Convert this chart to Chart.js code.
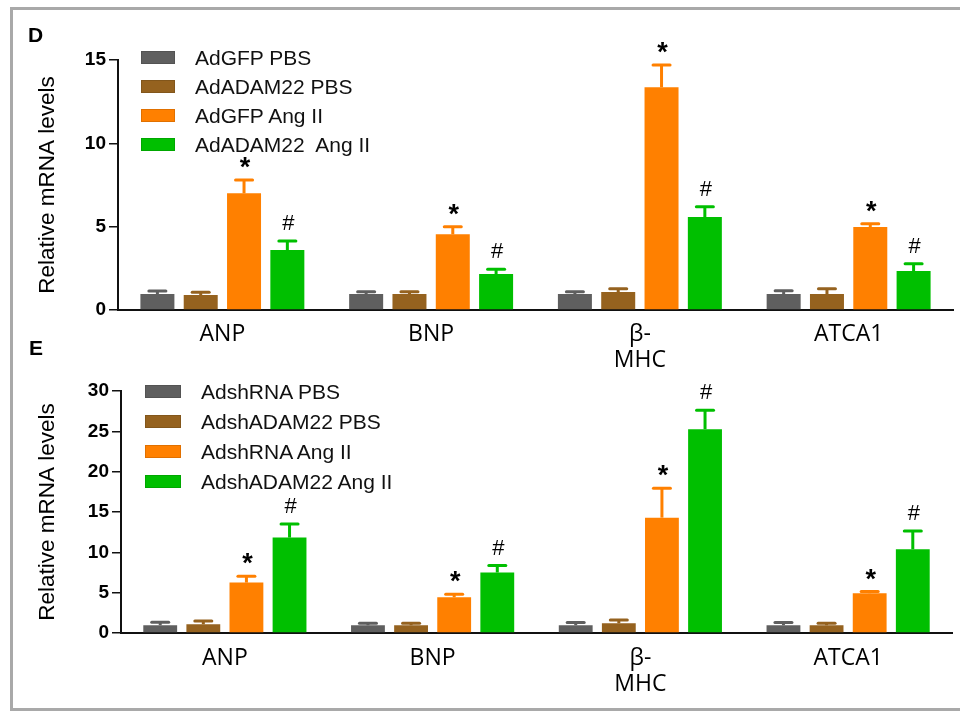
<!DOCTYPE html>
<html>
<head>
<meta charset="utf-8">
<script src="https://cdn.jsdelivr.net/npm/chart.js@4.4.1/dist/chart.umd.min.js"></script>
<style>
  html, body { margin: 0; padding: 0; background: #fff; }
  body { width: 960px; height: 711px; position: relative; overflow: hidden; font-family: "Liberation Sans", Arial, sans-serif; }
  .frame { position: absolute; left: 10px; top: 7px; width: 1000px; height: 698px; border: 3px solid #a9a9a9; border-right: none; }
  .cv { position: absolute; left: 0; }
  .panel { position: absolute; font-weight: bold; font-size: 21px; line-height: 21px; color: #000; }
  .leg { position: absolute; display: flex; align-items: center; height: 21px; font-size: 21px; line-height: 21px; color: #111; white-space: pre; }
  .leg .sw { height: 13px; margin-right: 20px; box-sizing: border-box; border: 1px solid rgba(0,0,0,0.12); }
</style>
</head>
<body>
<div class="frame"></div>
<canvas id="cD" class="cv" width="960" height="375" style="top:0px"></canvas>
<canvas id="cE" class="cv" width="960" height="336" style="top:375px"></canvas>
<div class="panel" style="left:28px; top:24px;">D</div>
<div class="panel" style="left:29px; top:337px;">E</div>
<div id="legD"></div>
<div id="legE"></div>
<script>
// ---------- data ----------
const categories = ['ANP', 'BNP', ['β-', 'MHC'], 'ATCA1'];
const colors = ['#5f5f5f', '#95621f', '#ff8000', '#00bf00'];

// Panel D
const seriesD = ['AdGFP PBS', 'AdADAM22 PBS', 'AdGFP Ang II', 'AdADAM22  Ang II'];
const dGfpPbs      = [0.96, 0.96, 0.96, 0.96];
const dAdamPbs     = [0.90, 0.96, 1.08, 0.96];
const dGfpAng      = [7.00, 4.54, 13.36, 4.98];
const dAdamAng     = [3.60, 2.16, 5.58, 2.34];
const dGfpPbsErr   = [0.18, 0.14, 0.14, 0.20];
const dAdamPbsErr  = [0.16, 0.14, 0.20, 0.32];
const dGfpAngErr   = [0.80, 0.46, 1.34, 0.20];
const dAdamAngErr  = [0.54, 0.28, 0.62, 0.44];
const ticksD = [0, 5, 10, 15];

// Panel E
const seriesE = ['AdshRNA PBS', 'AdshADAM22 PBS', 'AdshRNA Ang II', 'AdshADAM22 Ang II'];
const eShPbs       = [0.96, 0.96, 0.96, 0.96];
const eAdamPbs     = [1.08, 0.96, 1.20, 0.96];
const eShAng       = [6.25, 4.43, 14.30, 4.93];
const eAdamAng     = [11.83, 7.50, 25.27, 10.38];
const eShPbsErr    = [0.37, 0.24, 0.33, 0.33];
const eAdamPbsErr  = [0.42, 0.24, 0.42, 0.24];
const eShAngErr    = [0.78, 0.37, 3.65, 0.20];
const eAdamAngErr  = [1.67, 0.86, 2.33, 2.28];
const ticksE = [0, 5, 10, 15, 20, 25, 30];

const marks = ['', '', '*', '#'];
const yTitle = 'Relative mRNA levels';

// ---------- plugin: error bars + significance marks ----------
const errorBarPlugin = {
  id: 'errbars',
  afterDatasetsDraw(chart) {
    const ctx = chart.ctx;
    const ys = chart.scales.y;
    chart.data.datasets.forEach((ds, i) => {
      const meta = chart.getDatasetMeta(i);
      meta.data.forEach((bar, j) => {
        const v = ds.data[j];
        const e = ds.errors[j];
        const top = ys.getPixelForValue(v + e);
        ctx.save();
        ctx.strokeStyle = ds.backgroundColor;
        ctx.lineCap = 'butt';
        ctx.lineWidth = 3;
        ctx.beginPath();
        ctx.moveTo(bar.x, bar.y);
        ctx.lineTo(bar.x, top);
        ctx.stroke();
        ctx.lineCap = 'round';
        ctx.lineWidth = 3;
        ctx.beginPath();
        ctx.moveTo(bar.x - 8.5, top);
        ctx.lineTo(bar.x + 8.5, top);
        ctx.stroke();
        const mk = ds.mark;
        if (mk) {
          ctx.fillStyle = '#000';
          ctx.textAlign = 'center';
          ctx.textBaseline = 'alphabetic';
          let gap;
          if (mk === '*') { ctx.font = 'bold 27px "Liberation Sans", Arial'; gap = 12; }
          else { ctx.font = '22px "Liberation Sans", Arial'; gap = 11; }
          const m = ctx.measureText(mk);
          const by = (top - gap) - m.actualBoundingBoxDescent;
          ctx.fillText(mk, bar.x + 1, by);
        }
        ctx.restore();
      });
    });
  }
};

function makeDatasets(labels, vals, errs) {
  return labels.map((lab, i) => ({
    label: lab,
    data: vals[i],
    errors: errs[i],
    mark: marks[i],
    backgroundColor: colors[i],
    borderWidth: 0,
    barPercentage: 0.785,
    categoryPercentage: 0.83
  }));
}

function makeChart(id, labels, vals, errs, ticks, cfg) {
  return new Chart(document.getElementById(id), {
    type: 'bar',
    data: { labels: categories, datasets: makeDatasets(labels, vals, errs) },
    options: {
      responsive: false,
      animation: false,
      devicePixelRatio: 1,
      layout: { padding: cfg.padding },
      plugins: { legend: { display: false }, tooltip: { enabled: false } },
      scales: {
        x: {
          grid: { display: false, drawTicks: false },
          border: { display: true, color: '#111', width: 2 },
          ticks: {
            color: '#000',
            padding: cfg.xPad,
            maxRotation: 0,
            autoSkip: false,
            font: { family: '"Open Sans", sans-serif', size: 23, lineHeight: 1.13 }
          },
          afterFit(s) { s.height = cfg.xHeight; }
        },
        y: {
          min: 0,
          max: ticks[ticks.length - 1],
          afterBuildTicks(s) { s.ticks = ticks.map(v => ({ value: v })); },
          grid: { drawOnChartArea: false, drawTicks: true, tickLength: 9, color: '#111', lineWidth: 1.5 },
          border: { display: true, color: '#111', width: 2 },
          ticks: {
            color: '#000',
            padding: 3,
            font: { family: '"Liberation Sans", Arial', size: 19, weight: 'bold' }
          },
          title: {
            display: true,
            text: yTitle,
            color: '#000',
            padding: { top: 4, bottom: 0 },
            font: { family: '"Liberation Sans", Arial', size: 22.5, weight: 'normal' }
          },
          afterFit(s) { s.width = cfg.yWidth; }
        }
      }
    },
    plugins: [errorBarPlugin]
  });
}

makeChart('cD', seriesD,
  [dGfpPbs, dAdamPbs, dGfpAng, dAdamAng],
  [dGfpPbsErr, dAdamPbsErr, dGfpAngErr, dAdamAngErr],
  ticksD,
  { padding: { left: 30, right: 7, top: 60, bottom: 5 }, yWidth: 88, xHeight: 60, xPad: 11 });

makeChart('cE', seriesE,
  [eShPbs, eAdamPbs, eShAng, eAdamAng],
  [eShPbsErr, eAdamPbsErr, eShAngErr, eAdamAngErr],
  ticksE,
  { padding: { left: 30, right: 8, top: 16, bottom: 4 }, yWidth: 91, xHeight: 74, xPad: 12 });

// ---------- HTML legends ----------
function buildLegend(id, labels, left, top0, step, swW) {
  const host = document.getElementById(id);
  labels.forEach((lab, i) => {
    const row = document.createElement('div');
    row.className = 'leg';
    row.style.left = left + 'px';
    row.style.top = (top0 + i * step - 10.5) + 'px';
    const sw = document.createElement('span');
    sw.className = 'sw';
    sw.style.width = swW + 'px';
    sw.style.background = colors[i];
    const tx = document.createElement('span');
    tx.textContent = lab;
    row.appendChild(sw);
    row.appendChild(tx);
    host.appendChild(row);
  });
}
buildLegend('legD', seriesD, 141, 57, 29, 34);
buildLegend('legE', seriesE, 145, 391, 30, 36);
</script>
</body>
</html>
